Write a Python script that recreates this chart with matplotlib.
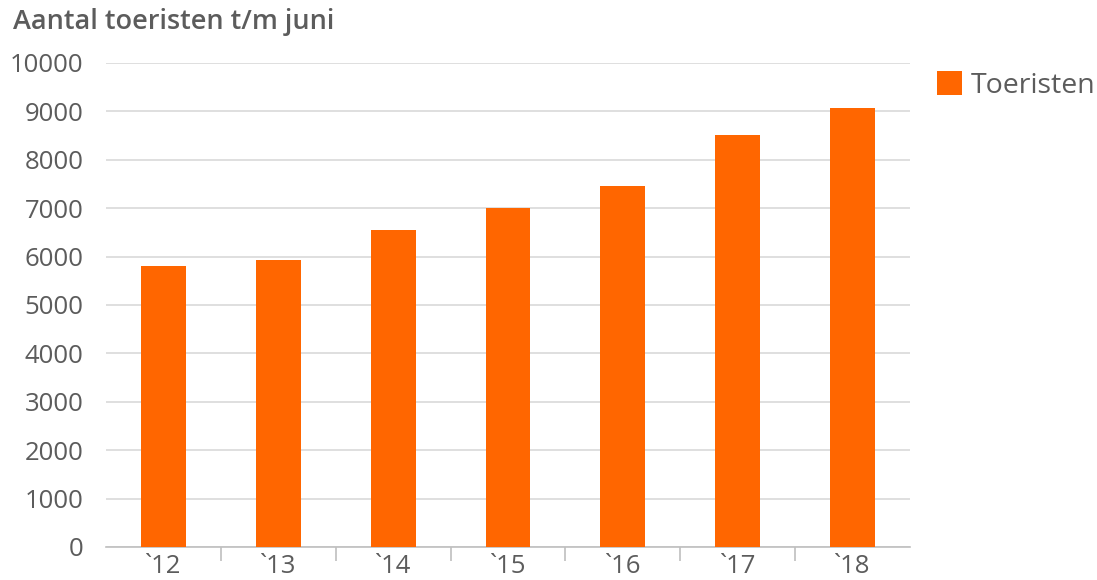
"""Bar chart: aantal toeristen t/m juni, 2012-2018."""

import matplotlib

matplotlib.use("Agg")

import matplotlib.pyplot as plt
from matplotlib.patches import Patch

plt.rcParams["font.family"] = ["Open Sans", "DejaVu Sans"]

years = ["`12", "`13", "`14", "`15", "`16", "`17", "`18"]
toeristen = [5800, 5930, 6550, 7000, 7450, 8520, 9060]
y_ticks = [0, 1000, 2000, 3000, 4000, 5000, 6000, 7000, 8000, 9000, 10000]

ORANGE = "#ff6600"
TEXT = "#5c5c5c"
GRID = "#d9d9d9"

fig = plt.figure(figsize=(10.97, 5.8), dpi=100)
ax = fig.add_axes([0.0966, 0.0569, 0.7329, 0.8345])

x = range(len(years))
ax.bar(x, toeristen, width=0.39, color=ORANGE, zorder=3)

ax.set_xlim(-0.5, len(years) - 0.5)
ax.set_ylim(0, 10000)
ax.set_yticks(y_ticks)
ax.set_yticklabels([str(v) for v in y_ticks])
ax.set_xticks(list(x))
ax.set_xticklabels(years)
ax.set_xticks([i + 0.5 for i in range(len(years) - 1)], minor=True)

ax.grid(axis="y", color=GRID, linewidth=1.2, zorder=0)
for side in ("top", "right", "left"):
    ax.spines[side].set_visible(False)
ax.spines["bottom"].set_color("#bfbfbf")
ax.spines["bottom"].set_linewidth(1.2)

ax.tick_params(axis="y", length=0, pad=16, labelsize=18.5, labelcolor=TEXT)
ax.tick_params(axis="x", which="major", length=0, pad=5, labelsize=18.5, labelcolor=TEXT)
ax.tick_params(axis="x", which="minor", length=10, width=1.2, color="#bfbfbf")

fig.text(0.012, 0.962, "Aantal toeristen t/m juni", fontsize=19.5, color=TEXT,
         fontweight="semibold", va="center", ha="left")

handle = Patch(facecolor=ORANGE, edgecolor="none", label="Toeristen")
fig.legend(handles=[handle], loc="center left", bbox_to_anchor=(0.854, 0.853),
           frameon=False, fontsize=20.5, labelcolor=TEXT, handlelength=0.9,
           handleheight=0.9, handletextpad=0.3, borderpad=0, borderaxespad=0)

fig.savefig("out.png", dpi=100)
